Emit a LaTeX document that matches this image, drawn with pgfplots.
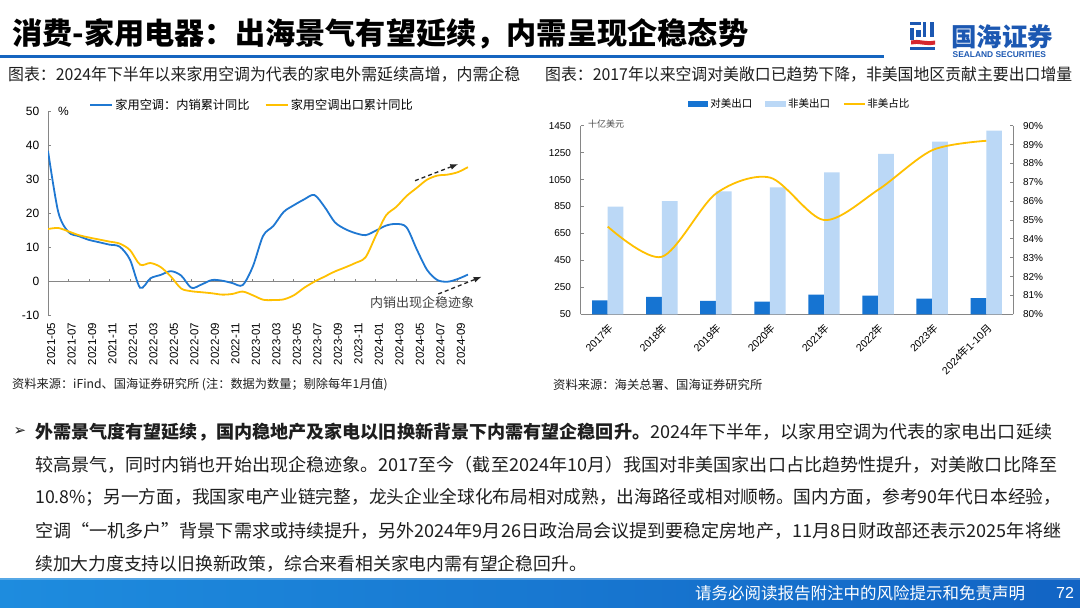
\documentclass[border=0pt]{standalone}
\usepackage{pgfplots}
\pgfplotsset{compat=1.18}
\usepackage{pgfplotstable}
\usepackage{graphicx}
\usetikzlibrary{arrows.meta}
\usepackage{fontspec}
\setmainfont{Liberation Sans}
\newfontfamily\cjk{Noto Sans CJK SC}
\newfontfamily\dejavu{DejaVu Sans}
\definecolor{lblue}{RGB}{31,120,210}
\definecolor{lyel}{RGB}{255,192,0}
\definecolor{bdark}{RGB}{22,116,210}
\definecolor{blight}{RGB}{187,216,246}
\definecolor{hblue}{RGB}{21,101,192}
\definecolor{logoblue}{RGB}{28,88,178}
\definecolor{logored}{RGB}{214,38,46}
\definecolor{axgray}{RGB}{134,134,134}
\definecolor{txt}{RGB}{30,30,30}

\pgfplotstableread{
i dom exp
0 38.5 15.5
1 20.5 15.8
2 14.6 14.8
3 13.4 13.7
4 12.3 13.0
5 11.6 12.4
6 10.9 11.8
7 10.3 11.2
8 6.5 9.3
9 -1.8 5.0
10 1.0 5.5
11 2.0 4.3
12 3.1 1.5
13 1.8 -2.0
14 -1.8 -2.8
15 -0.8 -3.1
16 0.5 -3.4
17 0.3 -3.8
18 -0.4 -3.6
19 -1.0 -2.9
20 4.5 -4.0
21 13.5 -5.3
22 16.4 -5.4
23 20.5 -5.2
24 22.5 -4.0
25 24.2 -1.8
26 25.5 0.0
27 22.0 1.5
28 17.5 3.0
29 15.5 4.2
30 14.3 5.5
31 13.7 7.2
32 15.0 13.5
33 16.5 19.5
34 17.0 22.0
35 16.0 25.2
36 9.5 27.6
37 3.5 30.0
38 0.5 31.2
39 0.0 31.5
40 0.8 32.2
41 2.1 33.7
}\leftdata

\pgfplotstableread{
c us nonus share
0 154 849 84.65
1 179 891 83.05
2 149 963 86.4
3 144 992 87.25
4 196 1104 85.0
5 188 1240 86.6
6 166 1331 88.7
7 171 1413 89.2
}\rightdata

\begin{document}
\begin{tikzpicture}[x=1pt,y=1pt]
\path[use as bounding box, fill=white] (0,0) rectangle (1080,-608);

% ---------- header ----------
\node[anchor=west, inner sep=0pt, text=black] at (12,-33.5)
  {\resizebox{736pt}{\height}{\cjk\bfseries\fontsize{30}{30}\selectfont 消费-家用电器：出海景气有望延续，内需呈现企稳态势}};
\fill[hblue] (0,-54.5) rectangle (884,-57.5);
% logo
\fill[logoblue] (910,-22) rectangle (921,-25);
\fill[logoblue] (910,-27.5) rectangle (914,-40);
\fill[logoblue] (922.5,-22) rectangle (926,-37);
\fill[logoblue] (930,-22) rectangle (934,-37);
\fill[logoblue] (916,-30) rectangle (920.5,-37);
\fill[logored] (911,-40.5) .. controls (918,-38.5) and (926,-42.5) .. (935,-40.5) -- (935,-44.5) .. controls (926,-46.5) and (918,-42.5) .. (911,-44.5) -- cycle;
\fill[logoblue] (910,-46.5) rectangle (935,-50);
\node[anchor=west, inner sep=0pt, text=logoblue] at (951,-37)
  {\cjk\bfseries\fontsize{25.5}{25.5}\selectfont 国海证券};
\node[anchor=west, inner sep=0pt, text=logoblue] at (952.5,-54.7)
  {\bfseries\fontsize{8.4}{8.4}\selectfont SEALAND SECURITIES};

% subtitles
\node[anchor=west, inner sep=0pt, text=txt] at (8,-74)
  {\resizebox{512pt}{\height}{\cjk\fontsize{16.4}{16.4}\selectfont 图表：2024年下半年以来家用空调为代表的家电外需延续高增，内需企稳}};
\node[anchor=west, inner sep=0pt, text=txt] at (545,-74)
  {\resizebox{527pt}{\height}{\cjk\fontsize{16.4}{16.4}\selectfont 图表：2017年以来空调对美敞口已趋势下降，非美国地区贡献主要出口增量}};

% ---------- left chart ----------
\begin{axis}[
  at={(48pt,-315.7pt)}, anchor=south west, scale only axis,
  width=420pt, height=204pt,
  xmin=0, xmax=41, ymin=-10, ymax=50,
  axis x line*=bottom, axis y line*=left,
  x axis line style={draw=none},
  y axis line style={axgray, line width=0.8pt},
  xtick={0.3,2.3,4.3,6.3,8.3,10.3,12.3,14.3,16.3,18.3,20.3,22.3,24.3,26.3,28.3,30.3,32.3,34.3,36.3,38.3,40.3},
  xticklabels={2021-05,2021-07,2021-09,2021-11,2022-01,2022-03,2022-05,2022-07,2022-09,2022-11,2023-01,2023-03,2023-05,2023-07,2023-09,2023-11,2024-01,2024-03,2024-05,2024-07,2024-09},
  xtick style={draw=none},
  xticklabel style={rotate=90, anchor=east, inner sep=0pt, font=\fontsize{11.5}{11.5}\selectfont, text=black},
  xticklabel shift=7pt,
  ytick={-10,0,10,20,30,40,50},
  yticklabels={-10,0,10,20,30,40,50},
  ytick style={axgray, line width=0.8pt},
  tick align=inside, major tick length=3pt,
  yticklabel style={inner sep=0pt, font=\fontsize{12}{12}\selectfont, text=black},
  yticklabel shift=8.5pt,
  legend style={at={(axis description cs:0.0976,1.033)}, anchor=west, draw=none, fill=none,
    inner sep=0pt, legend columns=2, font={\cjk\fontsize{12.2}{12.2}\selectfont},
    /tikz/every even column/.append style={column sep=13pt}},
  legend cell align=left,
  legend image code/.code={\draw[#1, line width=2.2pt] (0pt,0pt) -- (22pt,0pt);},
]
\draw[axgray, line width=0.8pt] (axis cs:0,0) -- (axis cs:41,0);
\pgfplotsinvokeforeach{1,...,20}{\draw[axgray, line width=0.8pt] (axis cs:{2*#1},0) -- ++(0pt,3pt);}
\addplot[lblue, line width=1.8pt, smooth] table[x=i, y=dom] {\leftdata};
\addlegendentry{家用空调：内销累计同比}
\addplot[lyel, line width=1.8pt, smooth] table[x=i, y=exp] {\leftdata};
\addlegendentry{家用空调出口累计同比}
\end{axis}
\node[anchor=west, inner sep=0pt] at (58,-111.7) {\fontsize{12}{12}\selectfont \%};
\draw[black!85, line width=1.3pt, dash pattern=on 4pt off 3pt, -{Latex[length=8pt,width=6pt]}] (415,-180.7) -- (458.3,-164);
\draw[black!85, line width=1.3pt, dash pattern=on 4pt off 3pt, -{Latex[length=8pt,width=6pt]}] (438.3,-294) -- (481.7,-276.7);
\node[anchor=west, inner sep=0pt, text=black!75] at (370,-302.3) {\cjk\fontsize{13}{13}\selectfont 内销出现企稳迹象};
\node[anchor=west, inner sep=0pt, text=txt] at (12,-385)
  {\cjk\fontsize{12.2}{12.2}\selectfont 资料来源：iFind、国海证券研究所 (注：数据为数量；剔除每年1月值)};

% ---------- right chart ----------
\begin{axis}[
  at={(580.7pt,-314.3pt)}, anchor=south west, scale only axis,
  width=432.6pt, height=188.6pt,
  xmin=-0.5, xmax=7.5, ymin=50, ymax=1450,
  ybar=0pt, bar width=15.7pt,
  axis x line*=bottom, axis y line*=left,
  axis line style={axgray, line width=0.8pt},
  xtick={0,...,7},
  xticklabels={{2017{\cjk 年}},{2018{\cjk 年}},{2019{\cjk 年}},{2020{\cjk 年}},{2021{\cjk 年}},{2022{\cjk 年}},{2023{\cjk 年}},{2024{\cjk 年}1-10{\cjk 月}}},
  xtick style={draw=none},
  extra x ticks={0.5,1.5,2.5,3.5,4.5,5.5,6.5},
  extra x tick labels={},
  extra x tick style={tick align=outside, major tick length=3pt, tick style={axgray, line width=0.8pt, draw=axgray}},
  xticklabel style={rotate=45, anchor=north east, inner sep=0pt, font=\fontsize{10.5}{10.5}\selectfont, text=black},
  xticklabel shift=8pt,
  ytick={50,250,450,650,850,1050,1250,1450},
  yticklabels={50,250,450,650,850,1050,1250,1450},
  ytick style={axgray, line width=0.8pt},
  tick align=inside, major tick length=3pt,
  yticklabel style={inner sep=0pt, font=\fontsize{10}{10}\selectfont, text=black},
  yticklabel shift=9.5pt,
  legend style={at={(axis description cs:0.2473,1.115)}, anchor=west, draw=none, fill=none,
    inner sep=0pt, legend columns=3, font={\cjk\fontsize{10.5}{10.5}\selectfont},
    /tikz/every even column/.append style={column sep=11pt}},
  legend cell align=left,
]
\addplot[fill=bdark, draw=none, legend image code/.code={\fill[bdark] (0pt,-3pt) rectangle (20.6pt,3pt);}] table[x=c, y=us] {\rightdata};
\addlegendentry{对美出口}
\addplot[fill=blight, draw=none, legend image code/.code={\fill[blight] (0pt,-3pt) rectangle (20.6pt,3pt);}] table[x=c, y=nonus] {\rightdata};
\addlegendentry{非美出口}
\addlegendimage{lyel, line width=1.8pt, legend image code/.code={\draw[lyel, line width=1.8pt] (0pt,0pt) -- (20.6pt,0pt);}}
\addlegendentry{非美占比}
\end{axis}
\begin{axis}[
  at={(580.7pt,-314.3pt)}, anchor=south west, scale only axis,
  width=432.6pt, height=188.6pt,
  xmin=-0.5, xmax=7.5, ymin=80, ymax=90,
  axis x line=none, axis y line*=right,
  y axis line style={axgray, line width=0.8pt},
  ytick={80,81,82,83,84,85,86,87,88,89,90},
  yticklabels={80\%,81\%,82\%,83\%,84\%,85\%,86\%,87\%,88\%,89\%,90\%},
  ytick style={axgray, line width=0.8pt},
  tick align=inside, major tick length=3pt,
  yticklabel style={inner sep=0pt, font=\fontsize{10}{10}\selectfont, text=black},
  yticklabel shift=9.5pt,
]
\addplot[lyel, line width=1.8pt, smooth] table[x=c, y=share] {\rightdata};
\end{axis}
\node[anchor=west, inner sep=0pt, text=black!70] at (588,-124) {\cjk\fontsize{9}{9}\selectfont 十亿美元};
\node[anchor=west, inner sep=0pt, text=txt] at (553,-385)
  {\cjk\fontsize{12.3}{12.3}\selectfont 资料来源：海关总署、国海证券研究所};

% ---------- body text ----------
\node[inner sep=0pt, text=txt] at (20,-431.7) {\dejavu\fontsize{15}{15}\selectfont ➢};
\node[anchor=west, inner sep=0pt, text=txt] at (35,-431.7)
  {\resizebox{1017pt}{\height}{\cjk\fontsize{17.8}{17.8}\selectfont {\bfseries 外需景气度有望延续，国内稳地产及家电以旧换新背景下内需有望企稳回升。}2024年下半年，以家用空调为代表的家电出口延续}};
\node[anchor=west, inner sep=0pt, text=txt] at (35,-464.7)
  {\resizebox{1022pt}{\height}{\cjk\fontsize{17.8}{17.8}\selectfont 较高景气，同时内销也开始出现企稳迹象。2017至今（截至2024年10月）我国对非美国家出口占比趋势性提升，对美敞口比降至}};
\node[anchor=west, inner sep=0pt, text=txt] at (35,-497.7)
  {\resizebox{1026pt}{\height}{\cjk\fontsize{17.8}{17.8}\selectfont 10.8\%；另一方面，我国家电产业链完整，龙头企业全球化布局相对成熟，出海路径或相对顺畅。国内方面，参考90年代日本经验，}};
\node[anchor=west, inner sep=0pt, text=txt] at (35,-530.7)
  {\resizebox{1026pt}{\height}{\cjk\fontsize{17.8}{17.8}\selectfont 空调“一机多户”背景下需求或持续提升，另外2024年9月26日政治局会议提到要稳定房地产，11月8日财政部还表示2025年将继}};
\node[anchor=west, inner sep=0pt, text=txt] at (35,-563.7)
  {\cjk\fontsize{17.8}{17.8}\selectfont 续加大力度支持以旧换新政策，综合来看相关家电内需有望企稳回升。};

% ---------- footer ----------
\shade[left color={rgb,255:red,30;green,140;blue,222}, right color={rgb,255:red,18;green,100;blue,196}] (0,-578) rectangle (1080,-608);
\fill[white, opacity=0.25] (0,-578) rectangle (1080,-580);
\node[anchor=west, inner sep=0pt, text=white] at (695,-593)
  {\cjk\fontsize{16.5}{16.5}\selectfont 请务必阅读报告附注中的风险提示和免责声明};
\node[anchor=west, inner sep=0pt, text=white] at (1056,-593) {\fontsize{16}{16}\selectfont 72};
\end{tikzpicture}
\end{document}
